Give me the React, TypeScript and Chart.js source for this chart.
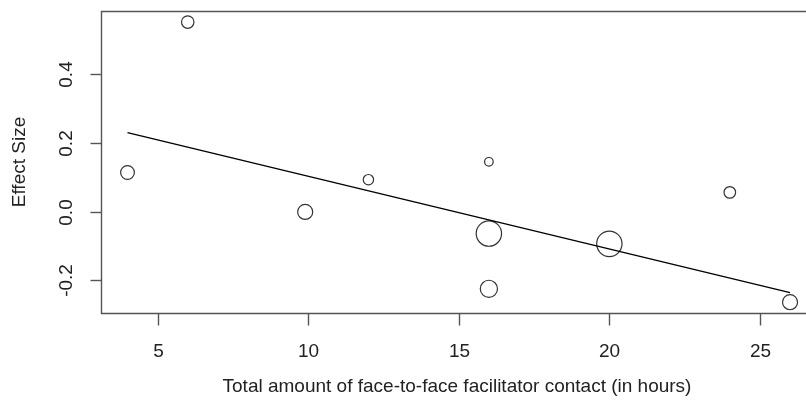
import { useEffect, useRef } from "react";
import { Chart, registerables } from "chart.js";

Chart.register(...registerables);

// Study-level data: contact hours, observed effect sizes and relative study weights
const contactHours = [4, 6, 9.9, 12, 16, 16, 16, 20, 24, 26];
const effectSizes = [0.114, 0.552, -0.001, 0.093, 0.145, -0.064, -0.225, -0.094, 0.056, -0.264];
const studyWeights = [1.6, 1.45, 1.75, 1.2, 1.0, 2.95, 2.0, 2.95, 1.35, 1.75];

// Fitted meta-regression line (end points)
const fitHours = [4, 26];
const fitEffects = [0.23, -0.236];

const xTicks = [5, 10, 15, 20, 25];
const yTicks = [-0.2, 0.0, 0.2, 0.4];
const xTitle = "Total amount of face-to-face facilitator contact (in hours)";
const yTitle = "Effect Size";

const FONT = '19px "Liberation Sans", Arial, sans-serif';
const INK = "#222";
const FRAME = "#555";

// Base-graphics style frame, ticks and labels
const frameAxes = {
  id: "frameAxes",
  afterDraw(chart: any) {
    const { ctx, chartArea: a, scales } = chart;
    const sx = scales.x;
    const sy = scales.y;
    ctx.save();
    ctx.strokeStyle = FRAME;
    ctx.lineWidth = 1.4;
    const L = Math.round(a.left) + 0.5;
    const T = Math.round(a.top) + 0.5;
    const B = Math.round(a.bottom) + 0.5;
    ctx.beginPath();
    ctx.moveTo(a.right + 5, T);
    ctx.lineTo(L, T);
    ctx.lineTo(L, B);
    ctx.lineTo(a.right + 5, B);
    ctx.stroke();

    ctx.fillStyle = INK;
    ctx.font = FONT;

    // x axis ticks and labels
    ctx.textAlign = "center";
    ctx.textBaseline = "alphabetic";
    xTicks.forEach((v) => {
      const px = Math.round(sx.getPixelForValue(v)) + 0.5;
      ctx.beginPath();
      ctx.moveTo(px, B);
      ctx.lineTo(px, B + 12);
      ctx.stroke();
      ctx.fillText(String(v), px, 357);
    });

    // y axis ticks and rotated labels
    yTicks.forEach((v) => {
      const py = Math.round(sy.getPixelForValue(v)) + 0.5;
      ctx.beginPath();
      ctx.moveTo(L, py);
      ctx.lineTo(L - 11, py);
      ctx.stroke();
      ctx.save();
      ctx.translate(72, py);
      ctx.rotate(-Math.PI / 2);
      ctx.textAlign = "center";
      ctx.textBaseline = "alphabetic";
      ctx.fillText(v.toFixed(1), 0, 0);
      ctx.restore();
    });

    // axis titles
    ctx.textAlign = "center";
    ctx.textBaseline = "alphabetic";
    ctx.fillText(xTitle, 457, 392);

    ctx.save();
    ctx.translate(25, (a.top + a.bottom) / 2);
    ctx.rotate(-Math.PI / 2);
    ctx.fillText(yTitle, 0, 0);
    ctx.restore();

    ctx.restore();
  },
};

export default function App() {
  const canvasRef = useRef<HTMLCanvasElement | null>(null);

  useEffect(() => {
    const canvas = canvasRef.current;
    if (!canvas) return;

    const bubbles = contactHours.map((h, i) => ({
      x: h,
      y: effectSizes[i],
      r: 4.3 * studyWeights[i],
    }));
    const fitLine = fitHours.map((h, i) => ({ x: h, y: fitEffects[i] }));

    const chart = new Chart(canvas, {
      type: "bubble",
      data: {
        datasets: [
          {
            type: "line",
            data: fitLine,
            borderColor: "#000",
            borderWidth: 1.5,
            pointRadius: 0,
            fill: false,
            tension: 0,
          } as any,
          {
            type: "bubble",
            data: bubbles,
            backgroundColor: "rgba(0,0,0,0)",
            borderColor: "#333",
            borderWidth: 1.2,
          },
        ],
      },
      options: {
        responsive: false,
        animation: false,
        events: [],
        layout: { autoPadding: false, padding: { left: 101, top: 11, right: 0, bottom: 94 } },
        plugins: {
          legend: { display: false },
          tooltip: { enabled: false },
        },
        scales: {
          x: { type: "linear", min: 3.12, max: 26.53, display: false },
          y: { type: "linear", min: -0.2954, max: 0.5843, display: false },
        },
      },
      plugins: [frameAxes],
    });

    return () => chart.destroy();
  }, []);

  return (
    <div style={{ position: "absolute", left: 0, top: 0, width: 806, height: 407, background: "#fff" }}>
      <canvas ref={canvasRef} width={806} height={407} style={{ display: "block" }} />
    </div>
  );
}
